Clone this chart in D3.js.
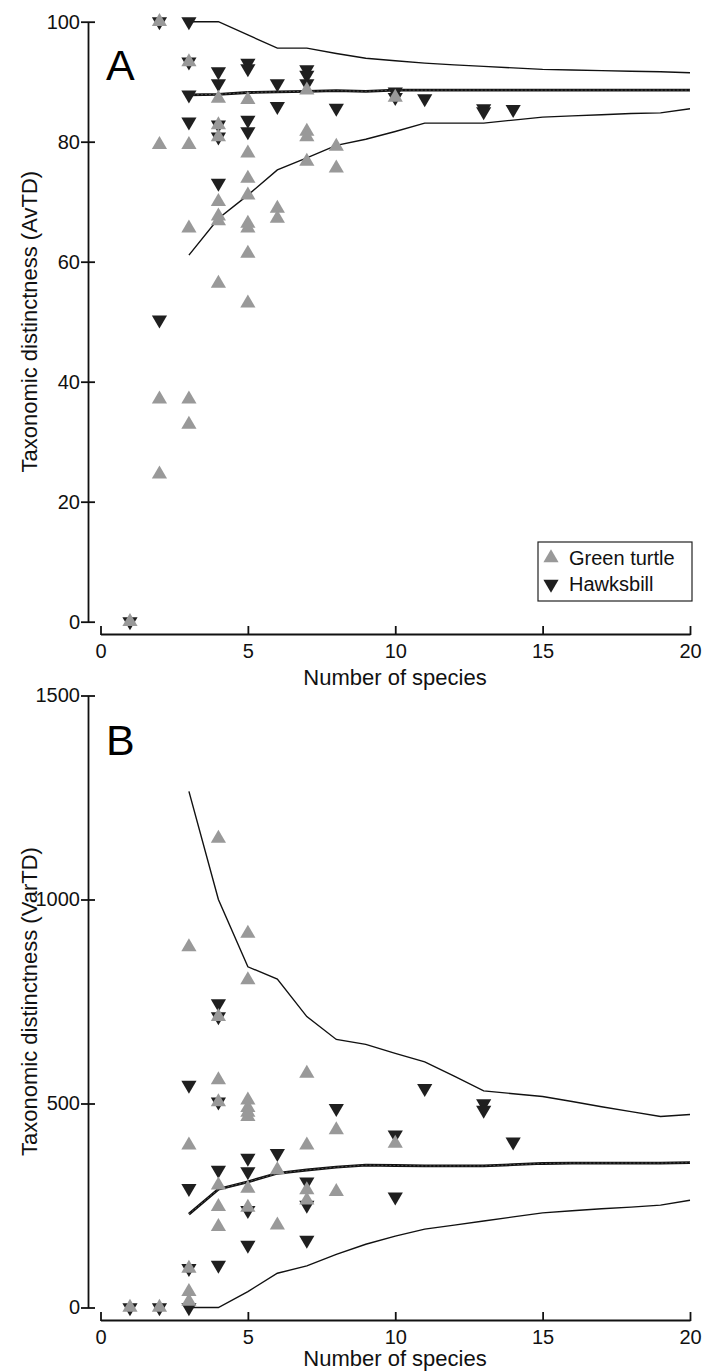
<!DOCTYPE html>
<html>
<head>
<meta charset="utf-8">
<script src="https://cdn.jsdelivr.net/npm/d3@7"></script>
<style>
  body { margin: 0; background: #fff; }
  svg { display: block; font-family: "Liberation Sans", Arial, Helvetica, sans-serif; }
</style>
</head>
<body>
<svg id="chart" width="707" height="1372"></svg>
<script>
// null model funnel (sample sizes 3..20)
var lineN = [3, 4, 5, 6, 7, 8, 9, 10, 11, 12, 13, 14, 15, 16, 17, 18, 19, 20];
var avtdUpper = [100, 100, 97.8, 95.6, 95.6, 94.7, 93.9, 93.5, 93.1, 92.8, 92.55, 92.3, 92.05, 91.95, 91.85, 91.75, 91.65, 91.5];
var avtdMean = [87.8, 87.9, 88.2, 88.3, 88.4, 88.5, 88.4, 88.6, 88.6, 88.6, 88.6, 88.6, 88.6, 88.6, 88.6, 88.6, 88.6, 88.6];
var avtdLower = [61.1, 67.2, 71.1, 75.3, 77.3, 79.4, 80.4, 81.7, 83.1, 83.1, 83.1, 83.6, 84.1, 84.3, 84.5, 84.7, 84.8, 85.5];
var vartdUpper = [1265, 1000, 835, 805, 713, 657, 645, 623, 602, 567, 531, 524, 517, 505, 492, 480, 468, 473];
var vartdMean = [229, 290, 308, 329, 337, 344, 349, 348, 347, 347, 347, 350, 353, 354, 354, 354, 354, 355];
var vartdLower = [0, 0, 39, 84, 102, 130, 155, 175, 192, 202, 212, 222, 232, 237, 242, 246, 251, 263];

// samples: [number of species, value]
var greenAvTD = [[1, 0], [2, 100], [2, 79.5], [2, 37.1], [2, 24.6],
  [3, 93.3], [3, 79.5], [3, 65.6], [3, 37.1], [3, 32.9],
  [4, 87.2], [4, 82.8], [4, 80.8], [4, 70], [4, 67.6], [4, 66.8], [4, 56.4],
  [5, 87], [5, 78.1], [5, 73.9], [5, 71.1], [5, 66.4], [5, 65.6], [5, 61.4], [5, 53.1],
  [6, 68.9], [6, 67.2], [7, 88.6], [7, 81.7], [7, 80.8], [7, 76.7], [8, 79.2], [8, 75.6], [10, 87.4]];
var hawksAvTD = [[1, 0], [2, 100], [2, 50.3], [3, 100], [3, 93.3], [3, 87.8], [3, 83.3],
  [4, 91.7], [4, 89.7], [4, 82.8], [4, 80.8], [4, 73.1], [5, 93.1], [5, 92.2], [5, 83.6], [5, 81.7],
  [6, 89.7], [6, 85.9], [7, 92.0], [7, 91.1], [7, 89.7], [8, 85.6], [10, 88.3], [10, 87.4],
  [11, 87.2], [13, 85.5], [13, 85.0], [14, 85.4]];
var greenVarTD = [[1, 0], [2, 0], [3, 884], [3, 398], [3, 96], [3, 39], [3, 15],
  [4, 1150], [4, 713], [4, 558], [4, 504], [4, 300], [4, 247], [4, 198],
  [5, 917], [5, 803], [5, 508], [5, 490], [5, 478], [5, 468], [5, 292], [5, 245],
  [6, 337], [6, 202], [7, 574], [7, 398], [7, 288], [7, 263], [8, 435], [8, 284], [10, 402]];
var hawksVarTD = [[1, 0], [2, 0], [3, 545], [3, 292], [3, 96], [3, 0],
  [4, 745], [4, 713], [4, 504], [4, 337], [4, 104], [5, 366], [5, 333], [5, 238], [5, 153],
  [6, 378], [7, 308], [7, 251], [7, 165], [8, 488], [10, 423], [10, 271], [11, 537],
  [13, 500], [13, 484], [14, 406]];

var xTicks = [0, 5, 10, 15, 20];
var avtdTicks = [0, 20, 40, 60, 80, 100];
var vartdTicks = [0, 500, 1000, 1500];
var seriesNames = ["Green turtle", "Hawksbill"];

var GREEN = "#999999", HAWK = "#1f1f1f";
var svg = d3.select("#chart");

// triangles centred on centroid, ~15px wide
function tri(up) {
  var w = 7.6, h = 13;
  var a = up ? -2 * h / 3 : 2 * h / 3, b = up ? h / 3 : -h / 3;
  return "M0," + a + "L" + w + "," + b + "L" + (-w) + "," + b + "Z";
}

function panel(opt) {
  var x = d3.scaleLinear().domain([0, 20]).range([100.5, 690]);
  var y = d3.scaleLinear().domain(opt.domain).range(opt.yRange);
  var g = svg.append("g");

  var yAx = g.append("g").attr("transform", "translate(88,0)")
    .call(d3.axisLeft(y).tickValues(opt.ticks).tickFormat(d3.format("d"))
      .tickSizeInner(7).tickSizeOuter(0).tickPadding(1));
  yAx.selectAll(".tick line").attr("x1", 7);
  var xAx = g.append("g").attr("transform", "translate(0," + opt.xAxisY + ")")
    .call(d3.axisBottom(x).tickValues(xTicks).tickSizeInner(8).tickSizeOuter(0).tickPadding(2));
  xAx.selectAll(".tick line").attr("y1", 1).attr("y2", -8);
  [yAx, xAx].forEach(function (a) {
    a.selectAll("path, line").attr("stroke", "#111").attr("stroke-width", 1.8);
    a.selectAll("text").attr("font-size", 20).attr("fill", "#111")
      .attr("font-family", "'Liberation Sans', Arial, sans-serif");
  });

  var line = d3.line().x(function (d) { return x(d[0]); }).y(function (d) { return y(d[1]); });
  [opt.upper, opt.lower].forEach(function (arr) {
    g.append("path").datum(lineN.map(function (n, i) { return [n, arr[i]]; }))
      .attr("d", line).attr("fill", "none").attr("stroke", "#111").attr("stroke-width", 1.4);
  });
  var meanData = lineN.map(function (n, i) { return [n, opt.mean[i]]; });
  g.append("path").datum(meanData).attr("d", line).attr("fill", "none")
    .attr("stroke", "#111").attr("stroke-width", 2.8);
  g.append("path").datum(meanData).attr("d", line).attr("fill", "none")
    .attr("stroke", "#777").attr("stroke-width", 0.6).attr("stroke-dasharray", "2,2");

  g.selectAll(".hawk").data(opt.hawks).enter().append("path")
    .attr("d", tri(false)).attr("fill", HAWK)
    .attr("transform", function (d) { return "translate(" + x(d[0]) + "," + y(d[1]) + ")"; });
  g.selectAll(".green").data(opt.green).enter().append("path")
    .attr("d", tri(true)).attr("fill", GREEN)
    .attr("transform", function (d) { return "translate(" + x(d[0]) + "," + y(d[1]) + ")"; });

  g.append("text").attr("x", 395).attr("y", opt.xTitleY).attr("text-anchor", "middle")
    .attr("font-size", 22).attr("fill", "#111").text("Number of species");
  var cy = (opt.yRange[0] + opt.yRange[1]) / 2;
  g.append("text").attr("transform", "translate(36.5," + cy + ") rotate(-90)")
    .attr("text-anchor", "middle").attr("font-size", 22).attr("fill", "#111").text(opt.yTitle);
  g.append("text").attr("x", 106).attr("y", opt.letterY).attr("font-size", 43)
    .attr("fill", "#000").text(opt.letter);
  return g;
}

panel({ domain: [0, 100], yRange: [621.7, 21.7], ticks: avtdTicks, xAxisY: 634,
  upper: avtdUpper, mean: avtdMean, lower: avtdLower, green: greenAvTD, hawks: hawksAvTD,
  xTitleY: 685, yTitle: "Taxonomic distinctness (AvTD)", letter: "A", letterY: 80 });
panel({ domain: [0, 1500], yRange: [1307.5, 695.5], ticks: vartdTicks, xAxisY: 1320,
  upper: vartdUpper, mean: vartdMean, lower: vartdLower, green: greenVarTD, hawks: hawksVarTD,
  xTitleY: 1366, yTitle: "Taxonomic distinctness (VarTD)", letter: "B", letterY: 755 });

// legend
var leg = svg.append("g").attr("transform", "translate(538,542)");
leg.append("rect").attr("width", 154).attr("height", 59).attr("fill", "#fff")
  .attr("stroke", "#222").attr("stroke-width", 1.2);
seriesNames.forEach(function (name, i) {
  var row = leg.append("g").attr("transform", "translate(0," + (16 + i * 26) + ")");
  row.append("path").attr("d", tri(i === 0)).attr("fill", i === 0 ? GREEN : HAWK)
    .attr("transform", "translate(13,0)");
  row.append("text").attr("x", 31).attr("y", 7).attr("font-size", 20).attr("fill", "#111").text(name);
});
</script>
</body>
</html>
